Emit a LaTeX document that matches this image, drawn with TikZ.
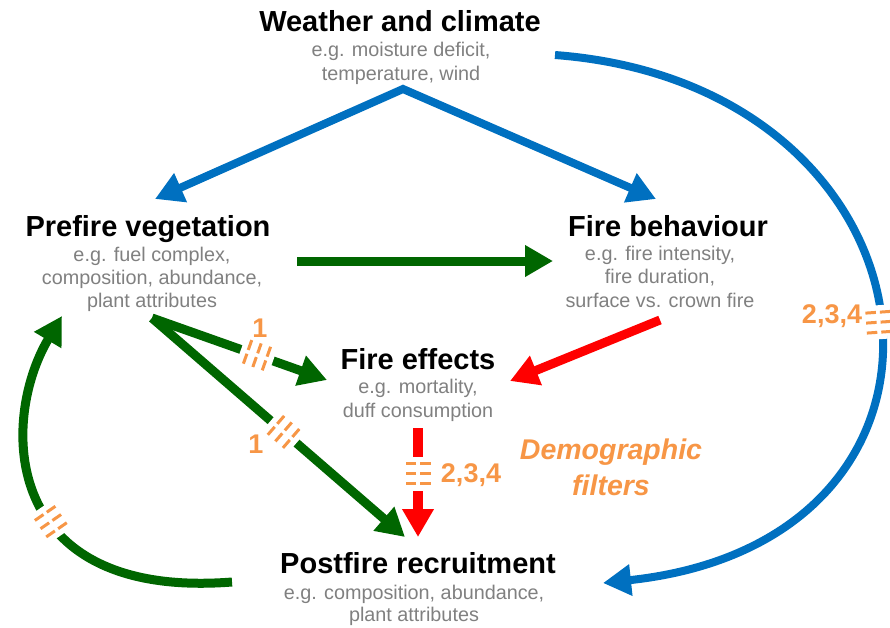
\documentclass[tikz,border=0pt]{standalone}
\usepackage{fontspec}
\setmainfont{Liberation Sans}
\usetikzlibrary{arrows.meta,decorations.markings}
\definecolor{cblue}{HTML}{0070C0}
\definecolor{cgreen}{HTML}{006600}
\definecolor{cred}{HTML}{FF0000}
\definecolor{corange}{HTML}{F79646}
\definecolor{cgray}{HTML}{808080}
\newcommand\filtermark{%
  \fill[white, arrows=-] (-17,-8) rectangle (17,8);
  \foreach \d in {-10,0,10}{\draw[arrows=-, corange, line width=3pt, dash pattern=on 10.5pt off 4pt] (\d,-12.5) -- (\d,12.5);}}
\begin{document}
\begin{tikzpicture}[x=1pt,y=-1pt,
 title/.style={anchor=base, font=\fontsize{29}{30}\selectfont\bfseries, inner sep=0},
 sub/.style={anchor=base, font=\fontsize{19.8}{24}\selectfont, text=cgray, inner sep=0},
 lab/.style={anchor=base, font=\fontsize{27}{30}\selectfont\bfseries, text=corange, inner sep=0},
 arr/.style={line width=9pt, -{Triangle[length=28pt,width=30pt]}},
 filt/.style={postaction={decorate}, decoration={markings, mark=at position #1 with {\filtermark}}},
]
\useasboundingbox (0,0) rectangle (890,627);
% texts
\node[title] (wt) at (400,31) {Weather and climate};
\node[sub] (w1) at (401,56) {e.g. moisture deficit,};
\node[sub] (w2) at (401,80) {temperature, wind};
\node[title] (pt) at (148,236) {Prefire vegetation};
\node[sub] (p1) at (152,261) {e.g. fuel complex,};
\node[sub] (p2) at (152,284) {composition, abundance,};
\node[sub] (p3) at (152,307) {plant attributes};
\node[title] (ft) at (668,236) {Fire behaviour};
\node[sub] (f1) at (660,260) {e.g. fire intensity,};
\node[sub] (f2) at (660,283) {fire duration,};
\node[sub] (f3) at (660,307) {surface vs. crown fire};
\node[title] (et) at (418,369) {Fire effects};
\node[sub] (e1) at (418,393) {e.g. mortality,};
\node[sub] (e2) at (418,417) {duff consumption};
\node[title] (rt) at (418,573) {Postfire recruitment};
\node[sub] (r1) at (414,599) {e.g. composition, abundance,};
\node[sub] (r2) at (414,621) {plant attributes};
\node[lab, font=\fontsize{28.5}{30}\selectfont\bfseries\itshape] (d1) at (611,459) {Demographic};
\node[lab, font=\fontsize{28.5}{30}\selectfont\bfseries\itshape] (d2) at (611,495) {filters};
% connector end points
\coordinate (apex) at (403,89);
\coordinate (wl) at (155,199);
\coordinate (wr) at (656,199);
\coordinate (bs) at (555,55);
\coordinate (be) at (603,583);
\coordinate (gh1) at (297,261);
\coordinate (gh2) at (553,261);
\coordinate (ga1) at (152,318);
\coordinate (ga2) at (327,380);
\coordinate (gb2) at (405,537);
\coordinate (gs) at (232,582);
\coordinate (ge) at (62,316);
\coordinate (ra1) at (660,320);
\coordinate (ra2) at (510,381);
\coordinate (rb1) at (418,428);
\coordinate (rb2) at (418,537);
% connectors
\draw[cblue, line width=8pt, line join=miter, {Triangle[length=28pt,width=30pt]}-{Triangle[length=28pt,width=30pt]}] (wl) -- (apex) -- (wr);
\draw[arr, cblue, line width=8pt, filt=0.52] (bs) .. controls (950,85) and (1005,540) .. (be);
\draw[arr, cgreen] (gh1) -- (gh2);
\draw[arr, cgreen, filt=0.6] (ga1) -- (ga2);
\draw[arr, cgreen, filt=0.52] (ga1) -- (gb2);
\draw[arr, cgreen, filt=0.48] (gs) .. controls (0,600) and (0,420) .. (ge);
\draw[arr, cred] (ra1) -- (ra2);
\draw[arr, cred, line width=10pt, filt=0.42] (rb1) -- (rb2);
% filter labels
\node[lab] (l1) at (260,337) {1};
\node[lab] (l2) at (256,453) {1};
\node[lab] (l3) at (471,482) {2,3,4};
\node[lab] (l4) at (832,323) {2,3,4};
\end{tikzpicture}
\end{document}
